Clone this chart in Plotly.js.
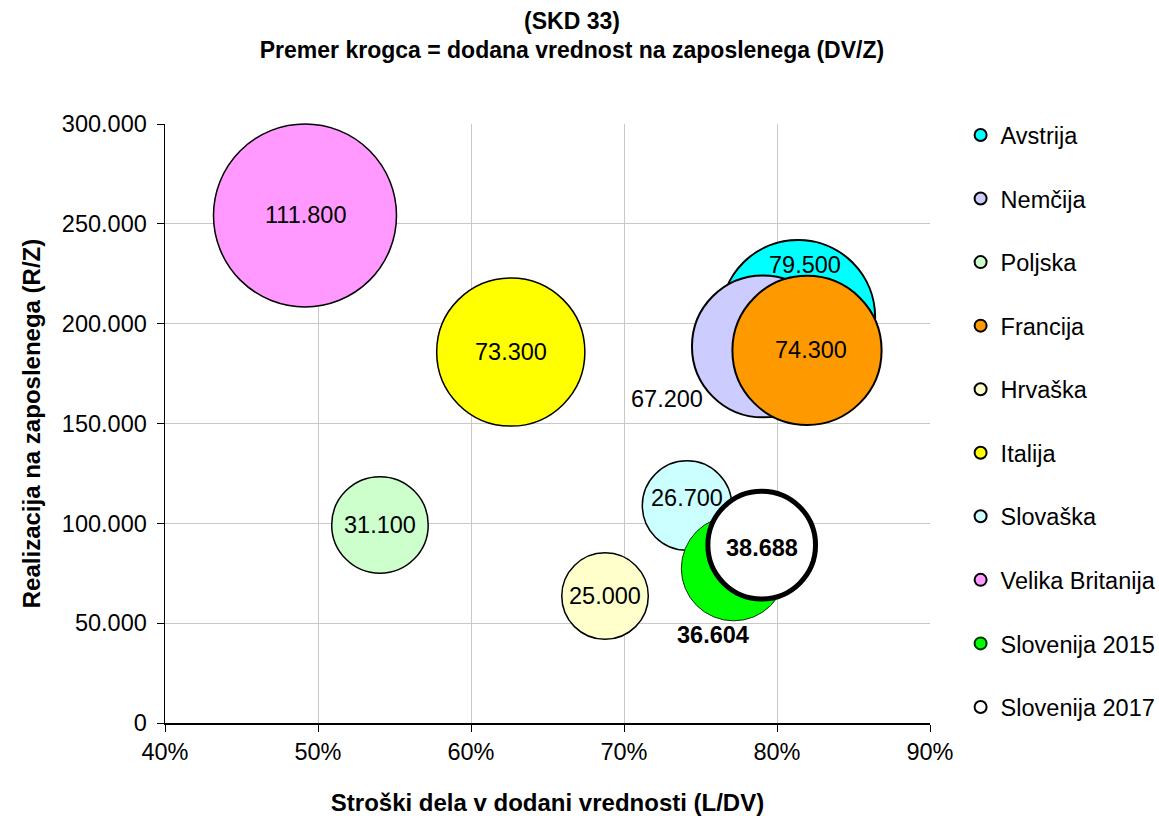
<!DOCTYPE html>
<html>
<head>
<meta charset="utf-8">
<script src="https://cdn.plot.ly/plotly-3.0.1.min.js"></script>
<style>
html,body{margin:0;padding:0;background:#fff;}
#chart{width:1159px;height:816px;}
</style>
</head>
<body>
<div id="chart"></div>
<script>
// ---- data ----
var countries = ["Avstrija","Nemčija","Poljska","Francija","Hrvaška","Italija","Slovaška","Velika Britanija","Slovenija 2015","Slovenija 2017"];
var laborShare = [0.8137, 0.7908, 0.5405, 0.8196, 0.6876, 0.626, 0.7412, 0.4915, 0.7717, 0.790];   // L/DV
var revenuePerEmp = [203300, 188600, 99200, 186600, 63600, 185800, 108900, 254200, 77400, 89100]; // R/Z
var valueAdded = [79.5, 67.2, 31.1, 74.3, 25.0, 73.3, 26.7, 111.8, 36.604, 38.688];              // DV/Z
var xTickVals = [0.4,0.5,0.6,0.7,0.8,0.9];
var yTickVals = [0,50000,100000,150000,200000,250000,300000];

// ---- styles ----
var fillColors = ["#00FFFF","#CCCCFF","#CCFFCC","#FF9900","#FFFFCC","#FFFF00","#CCFFFF","#FF99FF","#00FF00","#FFFFFF"];
var lineColors = ["#000","#000","#000","#000","#000","#000","#000","#000","#003300","#000"];
var lineWidths = [2,2,1.5,2,1.5,1.5,1.5,1.5,1,5];
var labelShiftX = [7,-96,0,4,0,0,0,0,-21,0];
var labelShiftY = [52,-53,0,0,0,0,8,0,-67,-3];
var labelBold = [false,false,false,false,false,false,false,false,true,true];
var FONT = "Liberation Sans, Arial, sans-serif";
var FS = 23.5;

var maxDiameter = 183;
var sizeref = 2*Math.max.apply(null,valueAdded)/(maxDiameter*maxDiameter);

function fmt(v){
  var s = v.toFixed(3).split('.');
  return s[0] + '.' + s[1];
}

var traces = countries.map(function(name,i){
  return {
    type:'scatter', mode:'markers', name:name, legendgroup:'g'+i,
    x:[laborShare[i]], y:[revenuePerEmp[i]],
    marker:{size:[valueAdded[i]], sizemode:'area', sizeref:sizeref, opacity:1,
            color:fillColors[i], line:{color:lineColors[i], width:lineWidths[i]}},
    hoverinfo:'skip', cliponaxis:false
  };
});

var annotations = countries.map(function(name,i){
  var t = fmt(valueAdded[i]);
  return {
    x:laborShare[i], y:revenuePerEmp[i], xref:'x', yref:'y',
    text: labelBold[i] ? '<b>'+t+'</b>' : t,
    showarrow:false, xshift:labelShiftX[i], yshift:labelShiftY[i],
    font:{family:FONT, size:FS, color:'#000'}
  };
});

var yTickText = yTickVals.map(function(v){
  if(v===0) return '0';
  return Math.floor(v/1000) + '.000';
});

var layout = {
  width:1159, height:816,
  margin:{l:165, r:229, t:124, b:93, pad:0, autoexpand:false},
  paper_bgcolor:'#fff', plot_bgcolor:'#fff',
  font:{family:FONT, size:FS, color:'#000'},
  title:{text:'<b>(SKD 33)<br>Premer krogca = dodana vrednost na zaposlenega (DV/Z)</b>',
         font:{family:FONT, size:23, color:'#000'},
         x:0.4935, xref:'container', xanchor:'center', y:0.965, yref:'container', yanchor:'top'},
  xaxis:{range:[0.4,0.9], tickmode:'array', tickvals:xTickVals, tickformat:'.0%',
         showgrid:true, gridcolor:'#c8c8c8', gridwidth:1,
         showline:true, linecolor:'#000', linewidth:1.5,
         ticks:'outside', ticklen:7, tickcolor:'#000', tickwidth:1,
         zeroline:false, tickfont:{family:FONT, size:FS},
         title:{text:'<b>Stroški dela v dodani vrednosti (L/DV)</b>', font:{family:FONT, size:24}, standoff:32}},
  yaxis:{range:[0,300000], tickmode:'array', tickvals:yTickVals, ticktext:yTickText,
         showgrid:true, gridcolor:'#c8c8c8', gridwidth:1,
         showline:true, linecolor:'#000', linewidth:1.5,
         ticks:'outside', ticklen:7, tickcolor:'#000', tickwidth:1, ticklabelstandoff:5,
         zeroline:false, tickfont:{family:FONT, size:FS},
         title:{text:'<b>Realizacija na zaposlenega (R/Z)</b>', font:{family:FONT, size:24}, standoff:14}},
  showlegend:true,
  legend:{x:1.04, xanchor:'left', y:1.018, yanchor:'top', itemsizing:'constant',
          font:{family:FONT, size:FS}, tracegroupgap:30, bgcolor:'rgba(0,0,0,0)',
          itemwidth:30, maxheight:720},
  annotations:annotations
};

Plotly.newPlot('chart', traces, layout, {staticPlot:true});
</script>
</body>
</html>
